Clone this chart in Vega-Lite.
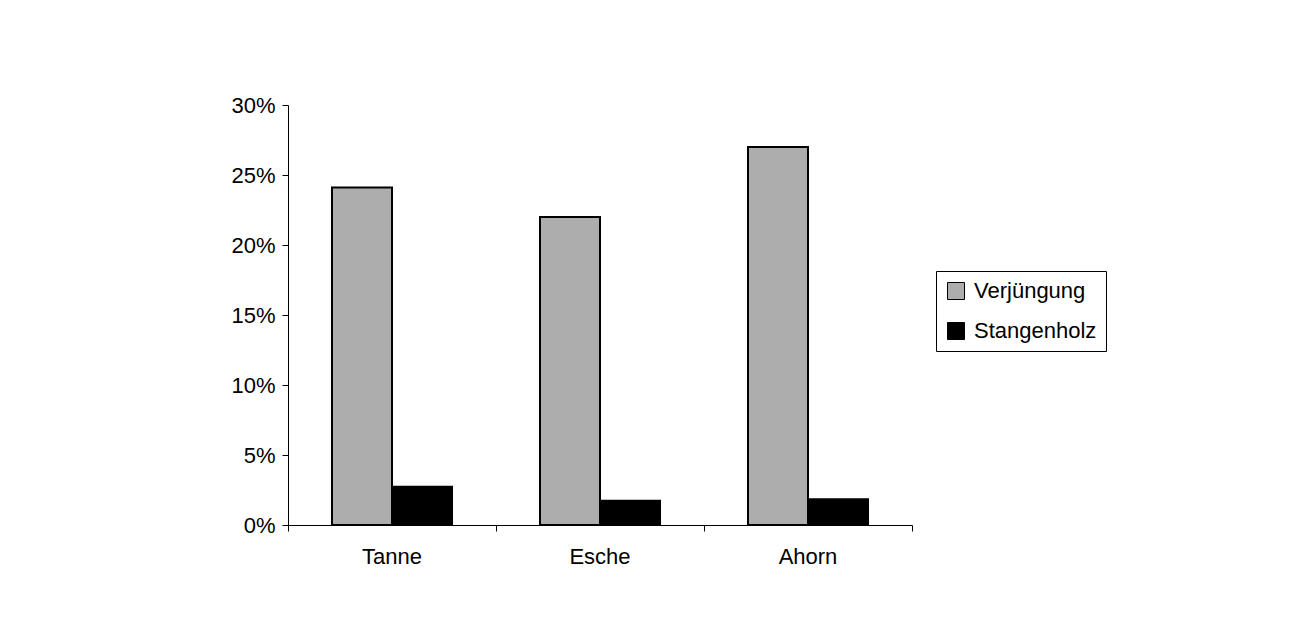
{
  "$schema": "https://vega.github.io/schema/vega-lite/v6.json",
  "autosize": "none",
  "width": 624,
  "height": 420,
  "padding": {"left": 288, "top": 105, "right": 390, "bottom": 99},
  "background": "white",
  "config": {
    "font": "Liberation Sans",
    "view": {"stroke": null}
  },
  "data": {
    "values": [
      {"Baumart": "Tanne", "Stufe": "Verjüngung", "Anteil": 0.241},
      {"Baumart": "Tanne", "Stufe": "Stangenholz", "Anteil": 0.0274},
      {"Baumart": "Esche", "Stufe": "Verjüngung", "Anteil": 0.22},
      {"Baumart": "Esche", "Stufe": "Stangenholz", "Anteil": 0.0174},
      {"Baumart": "Ahorn", "Stufe": "Verjüngung", "Anteil": 0.27},
      {"Baumart": "Ahorn", "Stufe": "Stangenholz", "Anteil": 0.0184}
    ]
  },
  "mark": {"type": "bar", "stroke": "black", "strokeWidth": 2},
  "encoding": {
    "x": {
      "field": "Baumart",
      "type": "nominal",
      "sort": ["Tanne", "Esche", "Ahorn"],
      "scale": {"paddingInner": 0, "paddingOuter": 0},
      "axis": {
        "title": null,
        "labelAngle": 0,
        "labelFontSize": 22,
        "labelColor": "black",
        "labelPadding": 15,
        "domainColor": "black",
        "tickColor": "black",
        "tickSize": 6,
        "bandPosition": 1,
        "tickExtra": true
      }
    },
    "xOffset": {
      "field": "Stufe",
      "type": "nominal",
      "sort": ["Verjüngung", "Stangenholz"],
      "scale": {"paddingInner": 0, "paddingOuter": 0.733}
    },
    "y": {
      "field": "Anteil",
      "type": "quantitative",
      "scale": {"domain": [0, 0.3], "nice": false},
      "axis": {
        "title": null,
        "format": ".0%",
        "values": [0, 0.05, 0.1, 0.15, 0.2, 0.25, 0.3],
        "grid": false,
        "labelFontSize": 22,
        "labelColor": "black",
        "labelPadding": 7,
        "domainColor": "black",
        "tickColor": "black",
        "tickSize": 6
      }
    },
    "color": {
      "field": "Stufe",
      "type": "nominal",
      "sort": ["Verjüngung", "Stangenholz"],
      "scale": {"domain": ["Verjüngung", "Stangenholz"], "range": ["#adadad", "#000000"]},
      "legend": {
        "title": null,
        "orient": "none",
        "legendX": 648,
        "legendY": 166,
        "symbolType": "square",
        "symbolSize": 289,
        "symbolStrokeColor": "black",
        "symbolStrokeWidth": 1,
        "labelFontSize": 22,
        "labelColor": "black",
        "labelOffset": 7,
        "rowPadding": 18,
        "padding": 9,
        "strokeColor": "black",
        "cornerRadius": 0,
        "fillColor": "white"
      }
    }
  }
}
